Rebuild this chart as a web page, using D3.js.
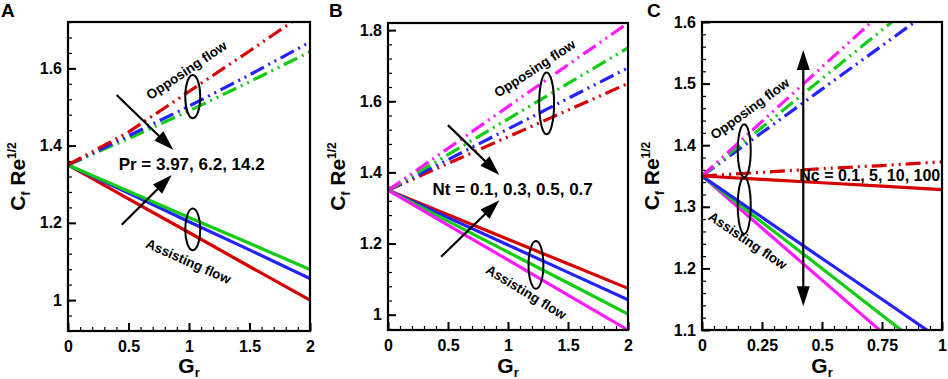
<!DOCTYPE html>
<html><head><meta charset="utf-8">
<script src="https://cdn.jsdelivr.net/npm/d3@7"></script>
<style>
body{margin:0;background:#fff;}
svg{display:block;font-family:Arial,"Liberation Sans",sans-serif;font-weight:bold;}
</style>
</head><body>
<svg id="chart" width="948" height="379"></svg>
<script>
// ---------------- DATA ----------------
const grAB = [0, 0.5, 1, 1.5, 2];
const grC  = [0, 0.25, 0.5, 0.75, 1];

// Panel A (Pr = 3.97, 6.2, 14.2)
const A_assist_red   = [1.35, 1.262, 1.175, 1.087, 1.000];
const A_assist_blue  = [1.35, 1.277, 1.203, 1.130, 1.056];
const A_assist_green = [1.35, 1.282, 1.214, 1.147, 1.079];
const A_oppose_red   = [1.35, 1.435, 1.540, 1.645, 1.752];
const A_oppose_blue  = [1.35, 1.425, 1.502, 1.583, 1.668];
const A_oppose_green = [1.35, 1.418, 1.490, 1.565, 1.643];

// Panel B (Nt = 0.1, 0.3, 0.5, 0.7)
const B_assist_red     = [1.35, 1.281, 1.212, 1.143, 1.074];
const B_assist_blue    = [1.35, 1.273, 1.196, 1.119, 1.042];
const B_assist_green   = [1.35, 1.263, 1.176, 1.089, 1.002];
const B_assist_magenta = [1.35, 1.252, 1.154, 1.055, 0.957];
const B_oppose_red     = [1.35, 1.425, 1.500, 1.575, 1.650];
const B_oppose_blue    = [1.35, 1.436, 1.522, 1.608, 1.694];
const B_oppose_green   = [1.35, 1.450, 1.550, 1.650, 1.750];
const B_oppose_magenta = [1.35, 1.4675, 1.585, 1.7025, 1.820];

// Panel C (Nc = 0.1, 5, 10, 100)
const C_assist_red     = [1.35, 1.3445, 1.339, 1.3335, 1.328];
const C_assist_blue    = [1.35, 1.283, 1.216, 1.150, 1.083];
const C_assist_green   = [1.35, 1.275, 1.200, 1.124, 1.049];
const C_assist_magenta = [1.35, 1.2655, 1.181, 1.0965, 1.012];
const C_oppose_red     = [1.35, 1.356, 1.362, 1.367, 1.373];
const C_oppose_blue    = [1.35, 1.4205, 1.491, 1.5615, 1.632];
const C_oppose_green   = [1.35, 1.429, 1.508, 1.587, 1.666];
const C_oppose_magenta = [1.35, 1.4385, 1.527, 1.6155, 1.704];

// Ticks
const A_xTicks = [0, 0.5, 1, 1.5, 2];
const A_xTickLabels = ["0", "0.5", "1", "1.5", "2"];
const A_yTicks = [1, 1.2, 1.4, 1.6];
const A_yTickLabels = ["1", "1.2", "1.4", "1.6"];
const B_xTicks = [0, 0.5, 1, 1.5, 2];
const B_xTickLabels = ["0", "0.5", "1", "1.5", "2"];
const B_yTicks = [1, 1.2, 1.4, 1.6, 1.8];
const B_yTickLabels = ["1", "1.2", "1.4", "1.6", "1.8"];
const C_xTicks = [0, 0.25, 0.5, 0.75, 1];
const C_xTickLabels = ["0", "0.25", "0.5", "0.75", "1"];
const C_yTicks = [1.1, 1.2, 1.3, 1.4, 1.5, 1.6];
const C_yTickLabels = ["1.1", "1.2", "1.3", "1.4", "1.5", "1.6"];

const A_paramText = "Pr = 3.97, 6.2, 14.2";
const B_paramText = "Nt = 0.1, 0.3, 0.5, 0.7";
const C_paramText = "Nc = 0.1, 5, 10, 100";

// ---------------- STYLE ----------------
const RED = "#d60000", BLUE = "#2323ff", GREEN = "#12cc12", MAGENTA = "#ff1aff";
const DASH = "15,5,2,5,2,5";

const svg = d3.select("#chart");

function minorRange(d, step) {
  const out = [];
  const s = Math.ceil(d[0] / step - 1e-9), e = Math.floor(d[1] / step + 1e-9);
  for (let i = s; i <= e; i++) out.push(+(i * step).toFixed(6));
  return out;
}

function drawPanel(cfg) {
  const g = svg.append("g");
  const x = d3.scaleLinear().domain(cfg.xDomain).range([cfg.left, cfg.right]);
  const y = d3.scaleLinear().domain(cfg.yDomain).range([cfg.bottom, cfg.top]);
  const id = "clip" + cfg.name;
  svg.append("clipPath").attr("id", id).append("rect")
    .attr("x", cfg.left).attr("y", cfg.top)
    .attr("width", cfg.right - cfg.left).attr("height", cfg.bottom - cfg.top);

  // minor ticks
  const xMinor = d3.axisBottom(x).tickValues(minorRange(cfg.xDomain, cfg.xMinor)).tickSize(-4).tickFormat("");
  const yMinor = d3.axisLeft(y).tickValues(minorRange(cfg.yDomain, cfg.yMinor)).tickSize(-4).tickFormat("");
  g.append("g").attr("transform", `translate(0,${cfg.bottom})`).call(xMinor)
    .call(a => a.select(".domain").remove()).selectAll("line").attr("stroke", "#000").attr("stroke-width", 1.2);
  g.append("g").attr("transform", `translate(${cfg.left},0)`).call(yMinor)
    .call(a => a.select(".domain").remove()).selectAll("line").attr("stroke", "#000").attr("stroke-width", 1.2);

  // major
  const xAxis = d3.axisBottom(x).tickValues(cfg.xTicks).tickSize(-8).tickPadding(10)
    .tickFormat((d, i) => cfg.xTickLabels[i]);
  const yAxis = d3.axisLeft(y).tickValues(cfg.yTicks).tickSize(-8).tickPadding(6)
    .tickFormat((d, i) => cfg.yTickLabels[i]);
  const gx = g.append("g").attr("transform", `translate(0,${cfg.bottom})`).call(xAxis);
  const gy = g.append("g").attr("transform", `translate(${cfg.left},0)`).call(yAxis);
  [gx, gy].forEach(a => {
    a.select(".domain").remove();
    a.selectAll("line").attr("stroke", "#000").attr("stroke-width", 2);
    a.selectAll("text").attr("fill", "#000").style("font-size", "16px")
      .style("font-weight", "bold").style("font-family", "Arial, 'Liberation Sans', sans-serif");
  });

  // lines
  const lg = g.append("g").attr("clip-path", `url(#${id})`);
  const line = d3.line().x(d => x(d[0])).y(d => y(d[1]));
  cfg.series.forEach(s => {
    lg.append("path").datum(s.xs.map((v, i) => [v, s.ys[i]]))
      .attr("d", line).attr("fill", "none").attr("stroke", s.color)
      .attr("stroke-width", 3.2).attr("stroke-dasharray", s.dash ? DASH : null);
  });

  // frame
  g.append("rect").attr("x", cfg.left).attr("y", cfg.top)
    .attr("width", cfg.right - cfg.left).attr("height", cfg.bottom - cfg.top)
    .attr("fill", "none").attr("stroke", "#000").attr("stroke-width", 2.2);

  // axis titles
  const yl = g.append("text")
    .attr("transform", `translate(${cfg.left - 43},${(cfg.top + cfg.bottom) / 2}) rotate(-90)`)
    .attr("text-anchor", "middle").attr("fill", "#000");
  yl.append("tspan").style("font-size", "21px").text("C");
  yl.append("tspan").style("font-size", "12px").attr("dy", 5).text("f");
  yl.append("tspan").style("font-size", "21px").attr("dy", -5).text(" Re");
  yl.append("tspan").style("font-size", "12px").attr("dy", -9).text("1/2");

  const xl = g.append("text")
    .attr("x", (cfg.left + cfg.right) / 2).attr("y", 373)
    .attr("text-anchor", "middle").attr("fill", "#000");
  xl.append("tspan").style("font-size", "21px").text("G");
  xl.append("tspan").style("font-size", "13px").attr("dy", 4).text("r");

  g.append("text").attr("x", cfg.letterX).attr("y", 17).style("font-size", "19px").text(cfg.name);

  // annotations (positions in data units)
  const an = g.append("g");
  cfg.ellipses.forEach(e => {
    an.append("ellipse").attr("cx", x(e[0])).attr("cy", y(e[1]))
      .attr("rx", Math.abs(x(e[2]) - x(0))).attr("ry", Math.abs(y(cfg.yDomain[0]) - y(cfg.yDomain[0] + e[3])))
      .attr("fill", "none").attr("stroke", "#000").attr("stroke-width", 2);
  });
  cfg.arrows.forEach(a => drawArrow(an, x(a[0]), y(a[1]), x(a[2]), y(a[3]), a[4]));
  cfg.labels.forEach(l => {
    an.append("text").attr("transform", `translate(${x(l.x)},${y(l.y)}) rotate(${l.rot || 0})`)
      .attr("text-anchor", "middle").attr("dominant-baseline", l.central ? "central" : null)
      .style("font-size", l.size + "px").attr("fill", "#000").text(l.text);
  });
}

function drawArrow(g, x1, y1, x2, y2, both) {
  const L = 20, W = 6.5;
  const dx = x2 - x1, dy = y2 - y1, len = Math.hypot(dx, dy);
  const ux = dx / len, uy = dy / len, nx = -uy, ny = ux;
  const sx = both ? x1 + ux * (L - 2) : x1, sy = both ? y1 + uy * (L - 2) : y1;
  g.append("line").attr("x1", sx).attr("y1", sy)
    .attr("x2", x2 - ux * (L - 2)).attr("y2", y2 - uy * (L - 2))
    .attr("stroke", "#000").attr("stroke-width", 2.2);
  const head = (tx, ty, vx, vy) => {
    const bx = tx - vx * L, by = ty - vy * L;
    g.append("polygon").attr("points",
      `${tx},${ty} ${bx + nx * W},${by + ny * W} ${bx - nx * W},${by - ny * W}`).attr("fill", "#000");
  };
  head(x2, y2, ux, uy);
  if (both) head(x1, y1, -ux, -uy);
}

// ---------------- PANELS ----------------
drawPanel({
  name: "A", letterX: 1,
  left: 68, right: 310, top: 22, bottom: 331,
  xDomain: [0, 2], yDomain: [0.92, 1.72],
  xTicks: A_xTicks, xTickLabels: A_xTickLabels, yTicks: A_yTicks, yTickLabels: A_yTickLabels,
  xMinor: 0.1, yMinor: 0.04,
  series: [
    {xs: grAB, ys: A_assist_red, color: RED},
    {xs: grAB, ys: A_assist_blue, color: BLUE},
    {xs: grAB, ys: A_assist_green, color: GREEN},
    {xs: grAB, ys: A_oppose_green, color: GREEN, dash: true},
    {xs: grAB, ys: A_oppose_blue, color: BLUE, dash: true},
    {xs: grAB, ys: A_oppose_red, color: RED, dash: true}
  ],
  ellipses: [[1.031, 1.527, 0.062, 0.056], [1.031, 1.183, 0.062, 0.054]],
  arrows: [[0.402, 1.531, 0.870, 1.389], [0.444, 1.195, 0.857, 1.324]],
  labels: [
    {text: "Opposing flow", x: 0.981, y: 1.595, rot: -34, size: 13.5, central: true},
    {text: "Assisting flow", x: 0.994, y: 1.10, rot: 24, size: 13.5, central: true},
    {text: A_paramText, x: 1.022, y: 1.337, size: 17}
  ]
});

drawPanel({
  name: "B", letterX: 329,
  left: 388, right: 628, top: 23, bottom: 330,
  xDomain: [0, 2], yDomain: [0.957, 1.82],
  xTicks: B_xTicks, xTickLabels: B_xTickLabels, yTicks: B_yTicks, yTickLabels: B_yTickLabels,
  xMinor: 0.1, yMinor: 0.04,
  series: [
    {xs: grAB, ys: B_assist_red, color: RED},
    {xs: grAB, ys: B_assist_blue, color: BLUE},
    {xs: grAB, ys: B_assist_green, color: GREEN},
    {xs: grAB, ys: B_assist_magenta, color: MAGENTA},
    {xs: grAB, ys: B_oppose_red, color: RED, dash: true},
    {xs: grAB, ys: B_oppose_blue, color: BLUE, dash: true},
    {xs: grAB, ys: B_oppose_green, color: GREEN, dash: true},
    {xs: grAB, ys: B_oppose_magenta, color: MAGENTA, dash: true}
  ],
  ellipses: [[1.322, 1.594, 0.062, 0.087], [1.233, 1.14, 0.062, 0.067]],
  arrows: [[0.499, 1.533, 0.928, 1.393], [0.443, 1.163, 0.928, 1.322]],
  labels: [
    {text: "Opposing flow", x: 1.224, y: 1.692, rot: -33, size: 13.5, central: true},
    {text: "Assisting flow", x: 1.15, y: 1.063, rot: 31.5, size: 13.5, central: true},
    {text: B_paramText, x: 1.039, y: 1.3365, size: 17}
  ]
});

drawPanel({
  name: "C", letterX: 647,
  left: 702, right: 942, top: 22, bottom: 330,
  xDomain: [0, 1], yDomain: [1.1, 1.6],
  xTicks: C_xTicks, xTickLabels: C_xTickLabels, yTicks: C_yTicks, yTickLabels: C_yTickLabels,
  xMinor: 0.05, yMinor: 0.02,
  series: [
    {xs: grC, ys: C_assist_magenta, color: MAGENTA},
    {xs: grC, ys: C_assist_green, color: GREEN},
    {xs: grC, ys: C_assist_blue, color: BLUE},
    {xs: grC, ys: C_assist_red, color: RED},
    {xs: grC, ys: C_oppose_blue, color: BLUE, dash: true},
    {xs: grC, ys: C_oppose_green, color: GREEN, dash: true},
    {xs: grC, ys: C_oppose_magenta, color: MAGENTA, dash: true},
    {xs: grC, ys: C_oppose_red, color: RED, dash: true}
  ],
  ellipses: [[0.176, 1.391, 0.027, 0.043], [0.176, 1.302, 0.027, 0.046]],
  arrows: [[0.422, 1.1387, 0.422, 1.5546, true]],
  labels: [
    {text: "Opposing flow", x: 0.20, y: 1.459, rot: -36, size: 13.5, central: true},
    {text: "Assisting flow", x: 0.19, y: 1.245, rot: 34, size: 13.5, central: true},
    {text: C_paramText, x: 0.699, y: 1.342, size: 16}
  ]
});
</script>
</body></html>
